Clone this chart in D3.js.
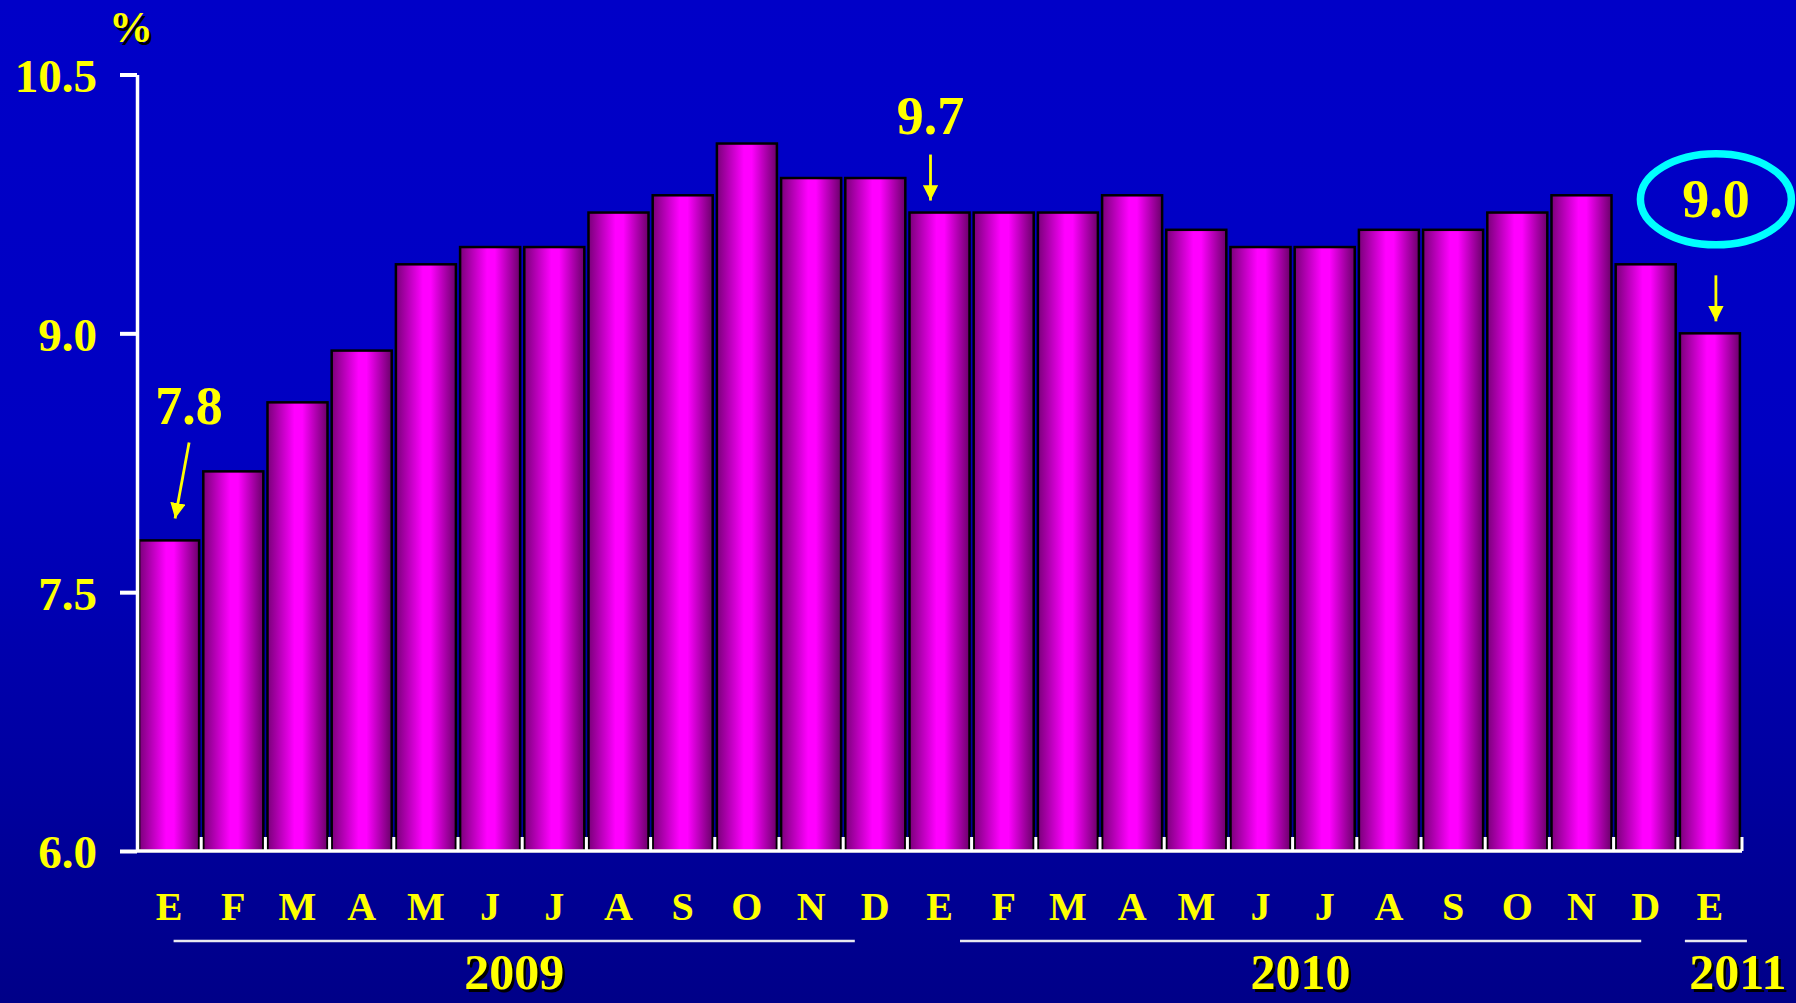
<!DOCTYPE html>
<html>
<head>
<meta charset="utf-8">
<script src="https://cdn.jsdelivr.net/npm/d3@7"></script>
<style>
  html, body { margin: 0; padding: 0; background: #0000b0; }
  svg { display: block; }
  text { font-family: "Liberation Serif", "Times New Roman", serif; font-weight: bold; }
</style>
</head>
<body>
<svg id="chart" width="1796" height="1003"></svg>
<script>
// ---- data ----
const months = ["E","F","M","A","M","J","J","A","S","O","N","D",
                "E","F","M","A","M","J","J","A","S","O","N","D","E"];
const values = [7.8, 8.2, 8.6, 8.9, 9.4, 9.5, 9.5, 9.7, 9.8, 10.1, 9.9, 9.9,
                9.7, 9.7, 9.7, 9.8, 9.6, 9.5, 9.5, 9.6, 9.6, 9.7, 9.8, 9.4, 9.0];
const yTicks = [6.0, 7.5, 9.0, 10.5];
const years = ["2009", "2010", "2011"];
const yearStart = [0, 12, 24];
const yearEnd = [11, 23, 24];
const calloutIndex = [0, 12, 24];
const calloutLabel = ["7.8", "9.7", "9.0"];

// ---- layout ----
const W = 1796, H = 1003;
const yearShift = [-8, 8, 6];
const svg = d3.select("#chart");
const defs = svg.append("defs");

const bg = defs.append("linearGradient").attr("id", "bg")
  .attr("x1", 0).attr("y1", 0).attr("x2", 0).attr("y2", 1);
bg.append("stop").attr("offset", "0%").attr("stop-color", "#0000c8");
bg.append("stop").attr("offset", "45%").attr("stop-color", "#0000c2");
bg.append("stop").attr("offset", "100%").attr("stop-color", "#000088");

const barGrad = defs.append("linearGradient").attr("id", "barg")
  .attr("x1", 0).attr("y1", 0).attr("x2", 1).attr("y2", 0);
barGrad.append("stop").attr("offset", "0%").attr("stop-color", "#7a007a");
barGrad.append("stop").attr("offset", "45%").attr("stop-color", "#ff00ff");
barGrad.append("stop").attr("offset", "58%").attr("stop-color", "#ff00ff");
barGrad.append("stop").attr("offset", "100%").attr("stop-color", "#6a006a");

defs.append("marker").attr("id", "arrow")
  .attr("viewBox", "0 0 10 10").attr("refX", 10).attr("refY", 5)
  .attr("markerWidth", 5.5).attr("markerHeight", 5.5).attr("markerUnits", "strokeWidth")
  .attr("orient", "auto")
  .append("path").attr("d", "M0,0 L10,5 L0,10 Z").attr("fill", "#ffff00");

svg.append("rect").attr("width", W).attr("height", H).attr("fill", "url(#bg)");

const plotL = 137, plotR = 1742, plotT = 74.5, plotB = 851;

const x = d3.scaleBand().domain(d3.range(months.length))
  .range([plotL, plotR]).paddingInner(0.065).paddingOuter(0.0325);
const y = d3.scaleLinear().domain([6, 10.5]).range([plotB, plotT]);
const bw = x.bandwidth();
const step = x.step();

// bars
svg.append("g").selectAll("rect").data(values).join("rect")
  .attr("x", (d, i) => x(i))
  .attr("y", d => y(d))
  .attr("width", bw)
  .attr("height", d => y(6) - y(d))
  .attr("fill", "url(#barg)")
  .attr("stroke", "#000")
  .attr("stroke-width", 2.5);

// y axis
const yAxis = svg.append("g").attr("transform", `translate(${plotL},0)`)
  .call(d3.axisLeft(y).tickValues(yTicks).tickFormat(d3.format(".1f"))
    .tickSize(17).tickSizeOuter(0).tickPadding(23));
yAxis.select(".domain").attr("stroke", "#fff").attr("stroke-width", 3.5);
yAxis.selectAll(".tick line").attr("stroke", "#fff").attr("stroke-width", 4);
yAxis.selectAll(".tick text").attr("fill", "#ffff00").attr("font-size", 47)
  .attr("font-family", "'Liberation Serif', 'Times New Roman', serif")
  .attr("font-weight", "bold").attr("dy", "0.36em");

// x axis line and ticks between bars
svg.append("line").attr("x1", plotL).attr("x2", plotR).attr("y1", plotB).attr("y2", plotB)
  .attr("stroke", "#fff").attr("stroke-width", 3.5);
svg.append("g").selectAll("line").data(d3.range(months.length)).join("line")
  .attr("x1", i => x(i) + bw + (step - bw) / 2)
  .attr("x2", i => x(i) + bw + (step - bw) / 2)
  .attr("y1", plotB).attr("y2", plotB - 14)
  .attr("stroke", "#fff").attr("stroke-width", 3);

// month labels
svg.append("g").selectAll("text").data(months).join("text")
  .attr("x", (d, i) => x(i) + bw / 2)
  .attr("y", 920)
  .attr("text-anchor", "middle")
  .attr("font-size", 40)
  .attr("fill", "#ffff00")
  .text(d => d);

// year groups
years.forEach((yr, k) => {
  const c0 = x(yearStart[k]) + bw / 2, c1 = x(yearEnd[k]) + bw / 2;
  const n = yearEnd[k] - yearStart[k];
  const len = n > 0 ? (c1 - c0) - 25 : bw + 2;
  const cx = (c0 + c1) / 2 + yearShift[k];
  svg.append("line").attr("x1", cx - len / 2).attr("x2", cx + len / 2)
    .attr("y1", 941).attr("y2", 941)
    .attr("stroke", "#e8e8f0").attr("stroke-width", 2.5);
  const tx = n > 0 ? cx : cx + 22;
  [["#000", 2.5], ["#ffff00", 0]].forEach(([col, off]) => {
    svg.append("text").attr("x", tx + off).attr("y", 989 + off)
      .attr("text-anchor", "middle").attr("font-size", 50)
      .attr("fill", col).text(yr);
  });
});

// % label
[["#000", 2.5], ["#ffff00", 0]].forEach(([col, off]) => {
  svg.append("text").attr("x", 131 + off).attr("y", 42 + off)
    .attr("text-anchor", "middle").attr("font-size", 44)
    .attr("fill", col).text("%");
});

// callouts
calloutIndex.forEach((idx, k) => {
  const cx = x(idx) + bw / 2;
  const ty = y(values[idx]);
  const g = svg.append("g");
  if (k === 0) {
    g.append("text").attr("x", cx + 20).attr("y", ty - 116)
      .attr("text-anchor", "middle").attr("font-size", 54).attr("fill", "#ffff00")
      .text(calloutLabel[k]);
    g.append("line").attr("x1", cx + 20).attr("y1", ty - 98)
      .attr("x2", cx + 6).attr("y2", ty - 22)
      .attr("stroke", "#ffff00").attr("stroke-width", 2.8).attr("marker-end", "url(#arrow)");
  } else if (k === 1) {
    g.append("text").attr("x", cx - 9).attr("y", ty - 79)
      .attr("text-anchor", "middle").attr("font-size", 54).attr("fill", "#ffff00")
      .text(calloutLabel[k]);
    g.append("line").attr("x1", cx - 9).attr("y1", ty - 58)
      .attr("x2", cx - 9).attr("y2", ty - 12)
      .attr("stroke", "#ffff00").attr("stroke-width", 2.8).attr("marker-end", "url(#arrow)");
  } else {
    const ex = cx + 6, ey = ty - 134;
    g.append("ellipse").attr("cx", ex).attr("cy", ey).attr("rx", 75.5).attr("ry", 45.5)
      .attr("fill", "none").attr("stroke", "#00ffff").attr("stroke-width", 7.5);
    g.append("text").attr("x", ex).attr("y", ey + 18)
      .attr("text-anchor", "middle").attr("font-size", 54).attr("fill", "#ffff00")
      .text(calloutLabel[k]);
    g.append("line").attr("x1", ex).attr("y1", ty - 58)
      .attr("x2", ex).attr("y2", ty - 12)
      .attr("stroke", "#ffff00").attr("stroke-width", 2.8).attr("marker-end", "url(#arrow)");
  }
});
</script>
</body>
</html>
